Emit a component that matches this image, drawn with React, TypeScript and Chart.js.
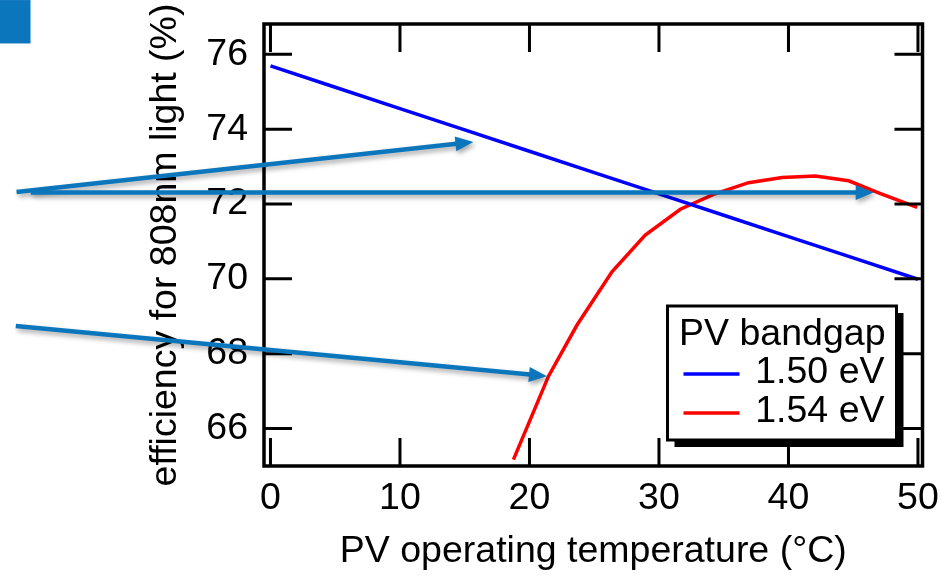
import React, { useEffect, useRef } from "react";
import { Chart, registerables } from "chart.js";

Chart.register(...registerables);

// ---- axes ----
const X_TICKS = [0, 10, 20, 30, 40, 50];
const Y_TICKS = [66, 68, 70, 72, 74, 76];
const X_MIN = -0.5;
const X_MAX = 50.35;
const Y_MIN = 65;
const Y_MAX = 76.81;
const X_TITLE = "PV operating temperature (°C)";
const Y_TITLE = "efficiency for 808nm light (%)";

// ---- series ----
const SERIES_LABELS = ["1.50 eV", "1.54 eV"];
const SERIES_COLORS = ["#0000ff", "#ff0000"];
const LEGEND_TITLE = "PV bandgap";

const BLUE_TEMPS = [0, 5, 10, 15, 20, 25, 30, 35, 40, 45, 50];
const BLUE_EFF = [75.69, 75.12, 74.55, 73.98, 73.41, 72.84, 72.27, 71.7, 71.13, 70.56, 69.99];

const RED_TEMPS = [18.76, 21.47, 23.66, 26.37, 28.94, 31.65, 34.22, 36.92, 39.51, 42.08, 44.65, 47.1, 49.94];
const RED_EFF = [65.17, 67.4, 68.76, 70.19, 71.17, 71.86, 72.26, 72.57, 72.71, 72.75, 72.62, 72.28, 71.91];

// ---- annotation arrows (data coordinates) ----
const ARROW_FROM_T = [-19.61, -18.51, -19.67];
const ARROW_FROM_V = [72.32, 72.31, 68.74];
const ARROW_TO_T = [15.67, 46.58, 21.35];
const ARROW_TO_V = [73.66, 72.31, 67.4];
const BADGE_T = [-20.9, -18.53];
const BADGE_V = [77.45, 76.29];
const ANNOT_COLOR = "#0c76bd";

const FONT_FAMILY = "'Liberation Sans', Arial, Helvetica, sans-serif";
const FONT_SIZE = 37.5;

const framePlugin = {
  id: "frameTicks",
  afterDatasetsDraw(chart: any) {
    const { ctx, chartArea: a, scales } = chart;
    const L = 28;
    ctx.save();
    ctx.strokeStyle = "#000";
    ctx.lineWidth = 3;
    ctx.beginPath();
    for (const t of scales.x.ticks) {
      const px = scales.x.getPixelForValue(t.value);
      ctx.moveTo(px, a.top);
      ctx.lineTo(px, a.top + L);
      ctx.moveTo(px, a.bottom);
      ctx.lineTo(px, a.bottom - L);
    }
    for (const t of scales.y.ticks) {
      const py = scales.y.getPixelForValue(t.value);
      ctx.moveTo(a.left, py);
      ctx.lineTo(a.left + L, py);
      ctx.moveTo(a.right, py);
      ctx.lineTo(a.right - L, py);
    }
    ctx.stroke();
    ctx.lineWidth = 3.5;
    ctx.strokeRect(a.left, a.top, a.right - a.left, a.bottom - a.top);
    ctx.restore();
  },
};

const legendPlugin = {
  id: "boxLegend",
  afterDraw(chart: any) {
    const { ctx, chartArea: a } = chart;
    const right = a.right - 26;
    const bottom = a.bottom - 26;
    const w = 229;
    const h = 134;
    const left = right - w;
    const top = bottom - h;
    ctx.save();
    ctx.fillStyle = "#000";
    ctx.fillRect(left + 7, top + 7, w, h);
    ctx.fillStyle = "#fff";
    ctx.fillRect(left, top, w, h);
    ctx.strokeStyle = "#000";
    ctx.lineWidth = 3;
    ctx.strokeRect(left, top, w, h);
    ctx.font = `${FONT_SIZE}px ${FONT_FAMILY}`;
    ctx.fillStyle = "#000";
    ctx.textAlign = "right";
    ctx.textBaseline = "alphabetic";
    ctx.fillText(LEGEND_TITLE, right - 11, top + 39);
    chart.data.datasets.forEach((ds: any, i: number) => {
      const base = top + 77 + i * 39;
      ctx.fillStyle = "#000";
      ctx.fillText(ds.label, right - 12, base);
      ctx.strokeStyle = ds.borderColor;
      ctx.lineWidth = 3.5;
      ctx.beginPath();
      ctx.moveTo(left + 16, base - 9);
      ctx.lineTo(left + 72, base - 9);
      ctx.stroke();
    });
    ctx.restore();
  },
};

const arrowPlugin = {
  id: "arrows",
  afterDraw(chart: any) {
    const { ctx, scales } = chart;
    const sx = scales.x;
    const sy = scales.y;
    ctx.save();
    ctx.fillStyle = ANNOT_COLOR;
    const bx0 = sx.getPixelForValue(BADGE_T[0]);
    const bx1 = sx.getPixelForValue(BADGE_T[1]);
    const by0 = sy.getPixelForValue(BADGE_V[0]);
    const by1 = sy.getPixelForValue(BADGE_V[1]);
    ctx.fillRect(bx0, by0, bx1 - bx0, by1 - by0);
    ctx.shadowColor = "rgba(0,0,0,0.35)";
    ctx.shadowBlur = 5;
    ctx.shadowOffsetX = 2;
    ctx.shadowOffsetY = 3;
    for (let i = 0; i < ARROW_FROM_T.length; i++) {
      const x0 = sx.getPixelForValue(ARROW_FROM_T[i]);
      const y0 = sy.getPixelForValue(ARROW_FROM_V[i]);
      const x1 = sx.getPixelForValue(ARROW_TO_T[i]);
      const y1 = sy.getPixelForValue(ARROW_TO_V[i]);
      const ang = Math.atan2(y1 - y0, x1 - x0);
      const hl = 18;
      const hw = 7.5;
      const bxh = x1 - hl * Math.cos(ang);
      const byh = y1 - hl * Math.sin(ang);
      ctx.strokeStyle = ANNOT_COLOR;
      ctx.lineWidth = 4.5;
      ctx.lineCap = "butt";
      ctx.beginPath();
      ctx.moveTo(x0, y0);
      ctx.lineTo(bxh + Math.cos(ang), byh + Math.sin(ang));
      ctx.stroke();
      ctx.beginPath();
      ctx.moveTo(x1, y1);
      ctx.lineTo(bxh + hw * Math.sin(ang), byh - hw * Math.cos(ang));
      ctx.lineTo(bxh - hw * Math.sin(ang), byh + hw * Math.cos(ang));
      ctx.closePath();
      ctx.fill();
    }
    ctx.restore();
  },
};

export default function App() {
  const ref = useRef<HTMLCanvasElement | null>(null);

  useEffect(() => {
    document.body.style.margin = "0";
    if (!ref.current) return;
    const font = { family: FONT_FAMILY, size: FONT_SIZE };
    const chart = new Chart(ref.current, {
      type: "line",
      data: {
        datasets: [
          {
            label: SERIES_LABELS[0],
            data: BLUE_TEMPS.map((t, i) => ({ x: t, y: BLUE_EFF[i] })),
            borderColor: SERIES_COLORS[0],
            borderWidth: 3.5,
            pointRadius: 0,
            tension: 0,
            fill: false,
          },
          {
            label: SERIES_LABELS[1],
            data: RED_TEMPS.map((t, i) => ({ x: t, y: RED_EFF[i] })),
            borderColor: SERIES_COLORS[1],
            borderWidth: 3.5,
            pointRadius: 0,
            tension: 0,
            fill: false,
          },
        ],
      },
      options: {
        animation: false,
        responsive: true,
        maintainAspectRatio: false,
        layout: { padding: { left: 0, top: 24, right: 27.5, bottom: 0 } },
        plugins: {
          legend: { display: false },
          tooltip: { enabled: false },
        },
        scales: {
          x: {
            type: "linear",
            min: X_MIN,
            max: X_MAX,
            grid: { display: false, drawTicks: false },
            border: { display: false },
            ticks: { font, color: "#000", padding: 10, maxRotation: 0, autoSkip: false },
            title: { display: true, text: X_TITLE, font, color: "#000", padding: { top: 0, bottom: 2 } },
            afterBuildTicks: (s: any) => {
              s.ticks = X_TICKS.map((v) => ({ value: v }));
            },
            afterFit: (s: any) => {
              s.height = 110;
              s.paddingLeft = 0;
              s.paddingRight = 0;
            },
          },
          y: {
            type: "linear",
            min: Y_MIN,
            max: Y_MAX,
            grid: { display: false, drawTicks: false },
            border: { display: false },
            ticks: { font, color: "#000", padding: 16 },
            title: { display: true, text: Y_TITLE, font, color: "#000", padding: { top: 143, bottom: 0 } },
            afterBuildTicks: (s: any) => {
              s.ticks = Y_TICKS.map((v) => ({ value: v }));
            },
            afterFit: (s: any) => {
              s.width = 264;
              s.paddingTop = 0;
              s.paddingBottom = 0;
            },
          },
        },
      },
      plugins: [framePlugin, legendPlugin, arrowPlugin],
    } as any);
    return () => chart.destroy();
  }, []);

  return (
    <div style={{ position: "fixed", left: 0, top: 0, width: 950, height: 576, background: "#fff" }}>
      <canvas ref={ref} />
    </div>
  );
}
